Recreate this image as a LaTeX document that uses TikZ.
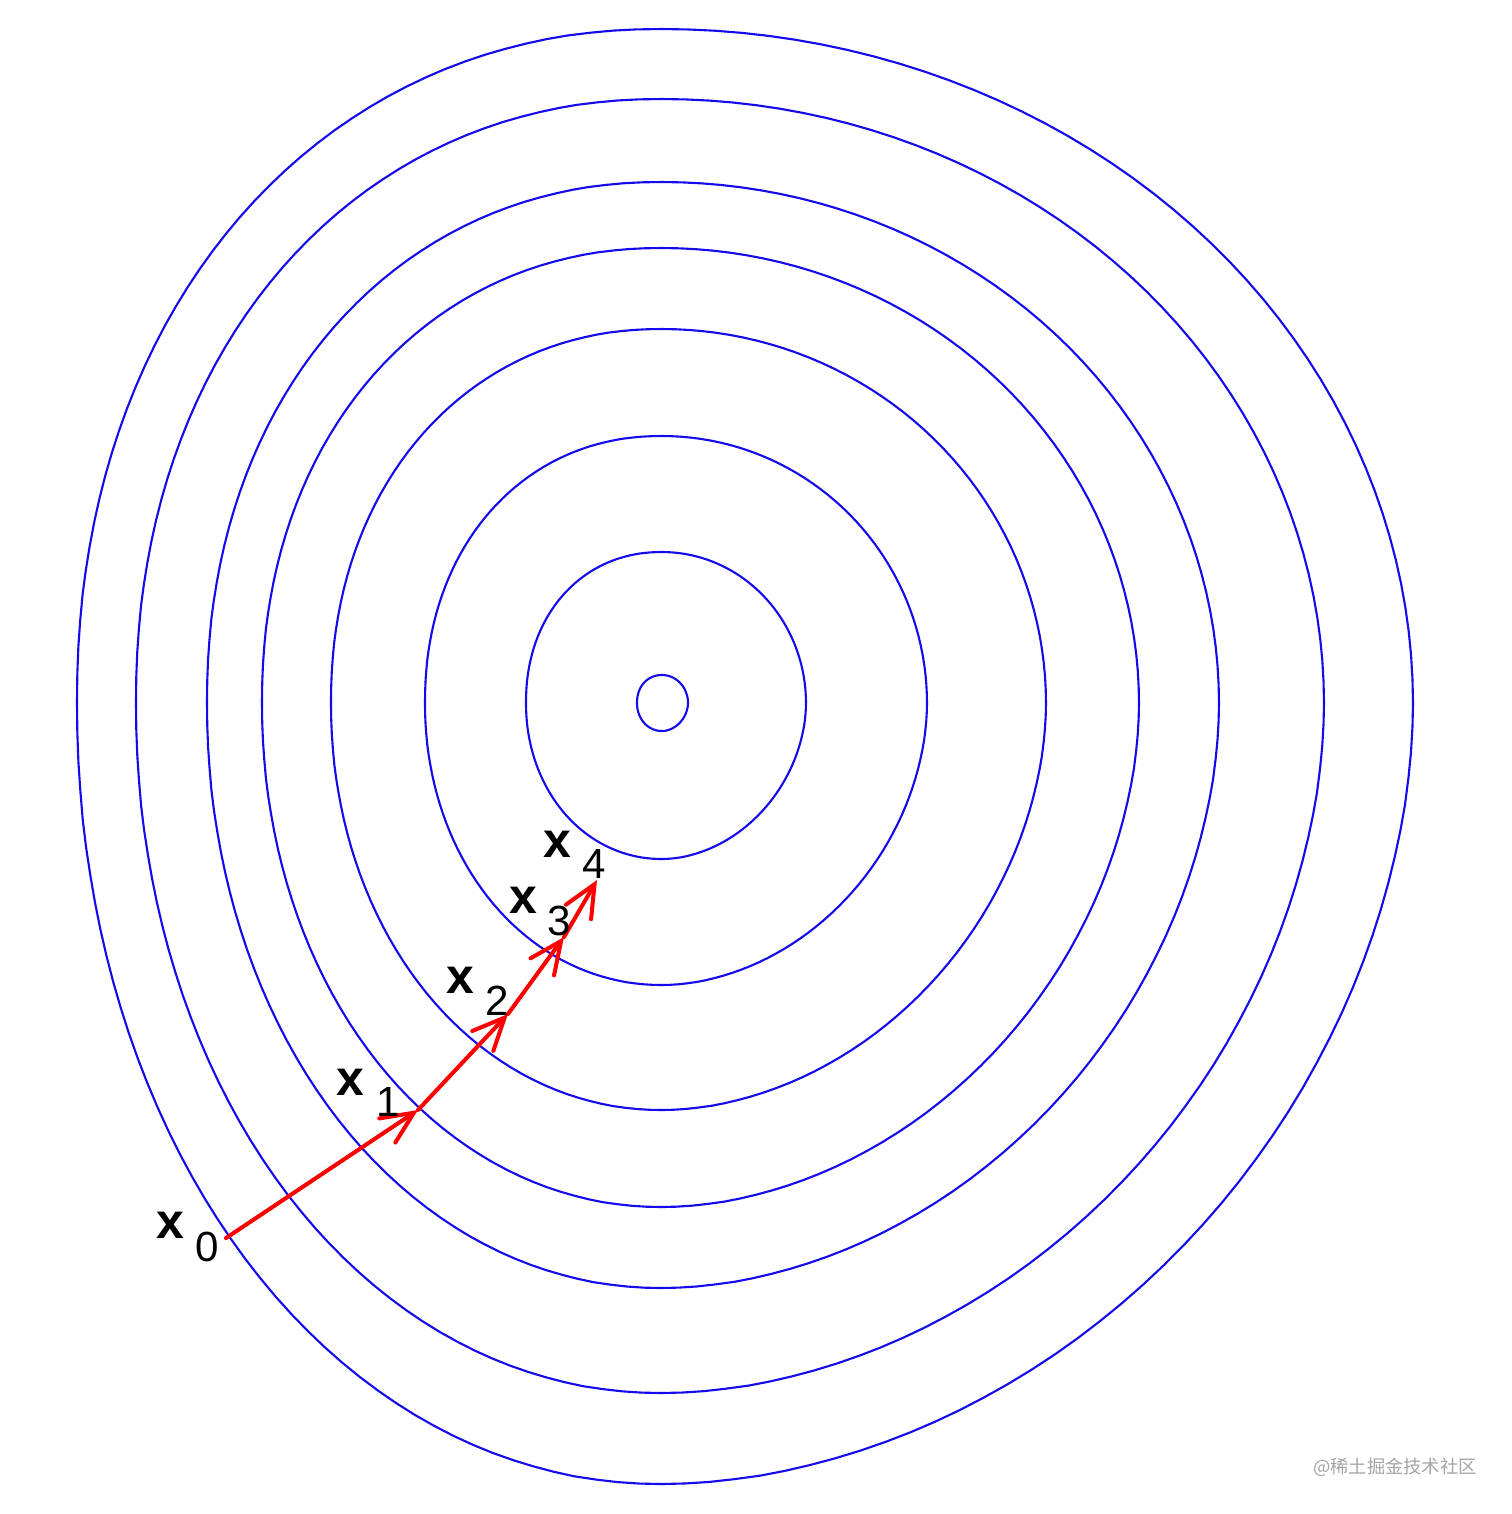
\documentclass[tikz,border=0pt]{standalone}
\usepackage{fontspec}
\setmainfont{Liberation Sans}
\newfontfamily\cjkfont{Noto Sans CJK SC}
\usetikzlibrary{arrows.meta}
\definecolor{levelblue}{RGB}{20,10,235}
\definecolor{stepred}{RGB}{255,0,0}
\definecolor{wmgray}{RGB}{165,165,165}
% contour centre (6.62,-7.03); args: left, right, top, bottom radii (cm)
\newcommand{\levelset}[5]{%
  \draw[contourline] plot[domain=0:90,samples=45]
      ({6.62+#2*pow(max(abs(cos(\x)),0.0001),1.0)},{-7.03+#3*pow(max(abs(sin(\x)),0.0001),1.0)})
    -- plot[domain=90:180,samples=45]
      ({6.62-#1*pow(max(abs(cos(\x)),0.0001),0.9434)},{-7.03+#3*pow(max(abs(sin(\x)),0.0001),0.9434)})
    -- plot[domain=180:270,samples=45]
      ({6.62-#1*pow(max(abs(cos(\x)),0.0001),0.9804)},{-7.03-#4*pow(max(abs(sin(\x)),0.0001),0.9804)})
    -- plot[domain=270:360,samples=45]
      ({6.62+#2*pow(max(abs(cos(\x)),0.0001),1.0526)},{-7.03-#4*pow(max(abs(sin(\x)),0.0001),1.0526)})
    -- cycle;
  \coordinate (#5) at (6.62,-7.03);}
\tikzset{
  contourline/.style={draw=levelblue,line width=0.6pt,line join=round},
  steparrow/.style={draw=stepred,line width=1.15pt,line cap=round,line join=round,
    -{Straight Barb[length=3.2mm,width=2.9mm,line cap=round]}},
  xlabel/.style={inner sep=0pt,font=\fontsize{14.2pt}{16pt}\selectfont\bfseries},
  sublabel/.style={inner sep=0pt,font=\fontsize{12pt}{14pt}\selectfont},
  watermark/.style={inner sep=0pt,text=wmgray,font=\cjkfont\fontsize{5.2pt}{6pt}\selectfont}
}
\begin{document}
\begin{tikzpicture}
\fill[white] (0,0) rectangle (15.12,-15.14);
\useasboundingbox (0,0) rectangle (15.12,-15.14);
% level sets
\levelset{0.25}{0.26}{0.28}{0.28}{c1}
\levelset{1.36}{1.44}{1.51}{1.56}{c2}
\levelset{2.37}{2.65}{2.67}{2.82}{c3}
\levelset{3.31}{3.84}{3.74}{4.07}{c4}
\levelset{4.00}{4.77}{4.55}{5.04}{c5}
\levelset{4.55}{5.57}{5.21}{5.85}{c6}
\levelset{5.26}{6.62}{6.04}{6.90}{c7}
\levelset{5.85}{7.51}{6.74}{7.81}{c8}
% iterates
\coordinate (x0) at (2.26,-12.38);
\coordinate (x1) at (4.18,-11.10);
\coordinate (x2) at (5.08,-10.14);
\coordinate (x3) at (5.64,-9.37);
\coordinate (x4) at (5.97,-8.80);
\draw[steparrow] (x0) -- (x1);
\draw[steparrow] (x1) -- (x2);
\draw[steparrow] (x2) -- (x3);
\draw[steparrow] (x3) -- (x4);
% labels
\node[xlabel] (lx0) at (1.70,-12.25) {x};
\node[sublabel] (ls0) at (2.07,-12.47) {0};
\node[xlabel] (lx1) at (3.50,-10.82) {x};
\node[sublabel] (ls1) at (3.88,-11.02) {1};
\node[xlabel] (lx2) at (4.60,-9.80) {x};
\node[sublabel] (ls2) at (4.97,-10.01) {2};
\node[xlabel] (lx3) at (5.23,-9.00) {x};
\node[sublabel] (ls3) at (5.59,-9.21) {3};
\node[xlabel] (lx4) at (5.57,-8.44) {x};
\node[sublabel] (ls4) at (5.94,-8.64) {4};
% watermark
\node[watermark] (wm) at (13.95,-14.67) {@稀土掘金技术社区};
\end{tikzpicture}
\end{document}
